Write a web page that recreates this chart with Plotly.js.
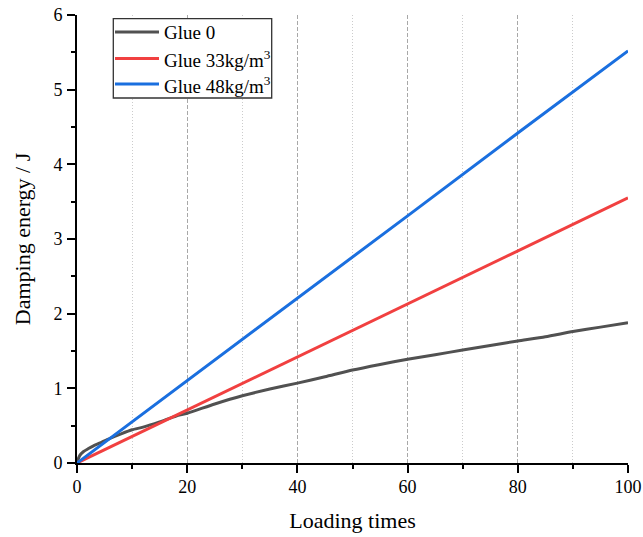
<!DOCTYPE html>
<html>
<head>
<meta charset="utf-8">
<script src="https://cdn.plot.ly/plotly-3.0.1.min.js"></script>
<style>html,body{margin:0;padding:0;background:#fff;}#chart{width:643px;height:537px;}</style>
</head>
<body>
<div id="chart"></div>
<script>
// Glue 0 (nonlinear)
const glue0X = [0, 0.3, 0.7, 1.2, 2, 3, 4.5, 6, 8, 10, 12, 15, 18, 20, 25, 30, 35, 40, 45, 50, 55, 60, 65, 70, 75, 80, 85, 90, 95, 100];
const glue0Y = [0, 0.07, 0.12, 0.155, 0.19, 0.23, 0.28, 0.33, 0.39, 0.445, 0.48, 0.55, 0.63, 0.667, 0.79, 0.9, 0.99, 1.07, 1.155, 1.245, 1.32, 1.39, 1.45, 1.513, 1.575, 1.634, 1.69, 1.76, 1.82, 1.88];
// Glue 33kg/m3
const glue33X = [0, 20, 40, 60, 80, 100];
const glue33Y = [0, 0.71, 1.42, 2.12, 2.83, 3.55];
// Glue 48kg/m3
const glue48X = [0, 20, 40, 60, 80, 100];
const glue48Y = [0, 1.10, 2.21, 3.31, 4.42, 5.52];

const seriesNames = ['Glue 0', 'Glue 33kg/m<sup>3</sup>', 'Glue 48kg/m<sup>3</sup>'];
const seriesColors = ['#515151', '#F14040', '#1A6FDF'];

const FONT = 'Liberation Serif, Times New Roman, serif';

const traces = [
  {x: glue0X, y: glue0Y, name: seriesNames[0], line: {color: seriesColors[0], width: 3, shape: 'spline', smoothing: 0.6}},
  {x: glue33X, y: glue33Y, name: seriesNames[1], line: {color: seriesColors[1], width: 3}},
  {x: glue48X, y: glue48Y, name: seriesNames[2], line: {color: seriesColors[2], width: 3}}
].map(t => Object.assign({type: 'scatter', mode: 'lines'}, t));

// Custom legend (paper coordinates from pixel layout)
const L = 77, T = 15, W = 551, H = 448;
const px = v => (v - L) / W;
const py = v => (T + H - v) / H;
const shapes = [
  {type: 'rect', xref: 'paper', yref: 'paper', x0: px(113.3), x1: px(271.7), y0: py(98), y1: py(18.7),
   line: {color: '#333', width: 1.3}, fillcolor: '#fff', layer: 'above'}
];
const annotations = [];
const rowY = [32, 58.5, 84];
seriesNames.forEach((n, i) => {
  shapes.push({type: 'line', xref: 'paper', yref: 'paper', x0: px(115), x1: px(159), y0: py(rowY[i]), y1: py(rowY[i]),
    line: {color: seriesColors[i], width: 3}, layer: 'above'});
  annotations.push({xref: 'paper', yref: 'paper', x: px(162), y: py(rowY[i] + 1), xanchor: 'left', yanchor: 'middle',
    text: n, showarrow: false, font: {family: FONT, size: 19, color: '#000'}});
});

const layout = {
  width: 643, height: 537,
  margin: {l: 77, r: 15, t: 15, b: 74},
  paper_bgcolor: '#fff', plot_bgcolor: '#fff',
  font: {family: FONT, size: 18, color: '#000'},
  showlegend: false,
  shapes: shapes,
  annotations: annotations,
  xaxis: {
    range: [0, 100], dtick: 20, tick0: 0,
    showline: true, linecolor: '#000', linewidth: 2,
    ticks: 'outside', ticklen: 8, tickwidth: 2, tickcolor: '#000',
    showgrid: true, gridcolor: '#a8a8a8', griddash: '4px,2px', gridwidth: 1,
    zeroline: false,
    minor: {dtick: 10, ticks: 'outside', ticklen: 4, tickwidth: 2, tickcolor: '#000', showgrid: true, gridcolor: '#cccccc', griddash: '1px,2px', gridwidth: 1},
    tickfont: {family: FONT, size: 18, color: '#000'},
    ticklabelstandoff: -2,
    title: {text: 'Loading times', font: {family: FONT, size: 22, color: '#000'}, standoff: 17}
  },
  yaxis: {
    range: [0, 6], dtick: 1, tick0: 0,
    showline: true, linecolor: '#000', linewidth: 2,
    ticks: 'outside', ticklen: 8, tickwidth: 2, tickcolor: '#000',
    showgrid: false, zeroline: false,
    minor: {dtick: 0.5, ticks: 'outside', ticklen: 4, tickwidth: 2, tickcolor: '#000', showgrid: false},
    tickfont: {family: FONT, size: 18, color: '#000'},
    ticklabelstandoff: 1,
    title: {text: 'Damping energy / J', font: {family: FONT, size: 22, color: '#000'}, standoff: 17}
  }
};

Plotly.newPlot('chart', traces, layout, {displayModeBar: false, staticPlot: true});
</script>
</body>
</html>
